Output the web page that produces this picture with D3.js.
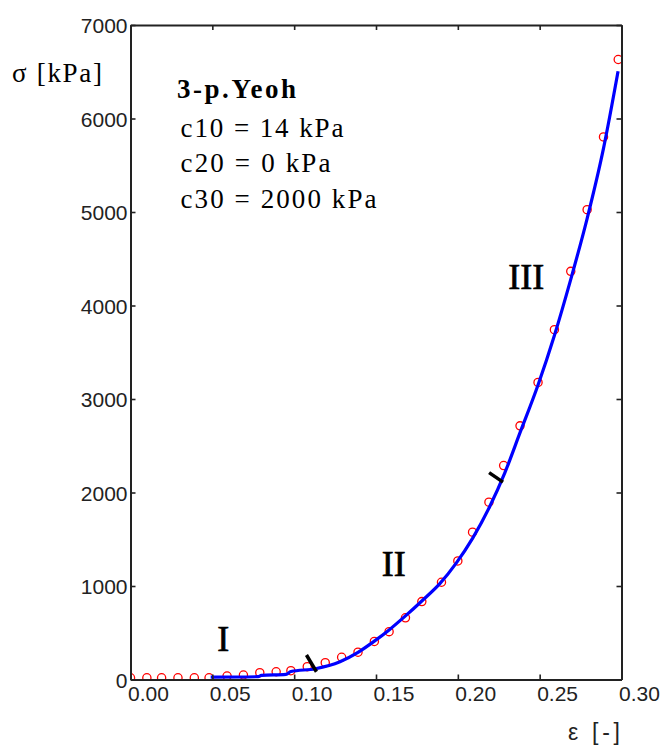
<!DOCTYPE html>
<html><head><meta charset="utf-8">
<script src="https://cdn.jsdelivr.net/npm/d3@7"></script>
<style>body{margin:0;background:#fff}svg{display:block}</style>
</head><body><svg id="c" width="663" height="747"></svg>
<script>
// measured data (red circles)
const measStrain = [0.000,0.010,0.019,0.029,0.039,0.048,0.059,0.069,0.079,0.089,0.098,0.108,0.119,0.129,0.139,0.149,0.158,0.168,0.178,0.190,0.200,0.209,0.219,0.228,0.238,0.249,0.259,0.269,0.279,0.289,0.298];
const measStress = [18,18,18,18,18,18,37,48,73,83,94,137,180,238,292,407,512,660,833,1040,1268,1576,1897,2288,2713,3177,3741,4365,5025,5803,6631];
// fitted 3-p. Yeoh curve (blue line)
const fitStrain = [0.049,0.078,0.080,0.095,0.098,0.113,0.128,0.139,0.149,0.158,0.168,0.178,0.189,0.199,0.209,0.2195,0.2287,0.238,0.249,0.259,0.269,0.279,0.289,0.2979];
const fitStress = [25,30,45,55,85,115,190,290,410,530,680,840,1025,1245,1510,1850,2210,2640,3150,3680,4280,4930,5680,6505];
// region boundary marks
const boundaryStrain = [[0.1075,0.1136],[0.2191,0.2276]];
const boundaryStress = [[262,83],[2213,2111]];
// region labels
const regionLabels = ["I","II","III"];
const regionStrain = [0.0566,0.1608,0.2418];
const regionStress = [308,1111,4180];
// ticks
const strainTicks = [0,0.05,0.10,0.15,0.20,0.25,0.30];
const stressTicks = [0,1000,2000,3000,4000,5000,6000,7000];
// texts
const annotationTitle = "3-p.Yeoh";
const annotationLines = ["c10 = 14 kPa","c20 = 0 kPa","c30 = 2000 kPa"];
const yTitle = "σ [kPa]";
const xTitle = "ε [-]";

const svg = d3.select("#c");
const L = 130.5, R = 621.5, T = 25, B = 679.5;
const x = d3.scaleLinear().domain([0,0.3]).range([L,R]);
const y = d3.scaleLinear().domain([0,7000]).range([B,T]);
const sans = "'Liberation Sans', Arial, sans-serif";
const serif = "'Liberation Serif', 'Times New Roman', serif";

svg.append("rect").attr("width",663).attr("height",747).attr("fill","#fff");

svg.append("defs").append("clipPath").attr("id","clip")
  .append("rect").attr("x",L).attr("y",T).attr("width",R-L).attr("height",B-T);

const plot = svg.append("g").attr("clip-path","url(#clip)");

// circles
plot.selectAll("circle").data(measStrain).join("circle")
  .attr("cx",(d)=>x(d)).attr("cy",(d,i)=>y(measStress[i]))
  .attr("r",4.1).attr("fill","none").attr("stroke","#ff0000").attr("stroke-width",1.3);

// fit line
const line = d3.line().x(d=>x(d[0])).y(d=>y(d[1])).curve(d3.curveMonotoneX);
plot.append("path").datum(fitStrain.map((s,i)=>[s,fitStress[i]]))
  .attr("d",line).attr("fill","none").attr("stroke","#0000ff").attr("stroke-width",3.2);

// boundary marks
boundaryStrain.forEach((bs,i)=>{
  svg.append("line")
    .attr("x1",x(bs[0])).attr("y1",y(boundaryStress[i][0]))
    .attr("x2",x(bs[1])).attr("y2",y(boundaryStress[i][1]))
    .attr("stroke","#000").attr("stroke-width",3.5);
});

// axes
function styleAxis(g){
  g.select(".domain").attr("stroke","#222").attr("stroke-width",2);
  g.selectAll(".tick line").attr("stroke","#222").attr("stroke-width",1.6);
  g.selectAll("text").attr("font-family",sans).attr("font-size",21).attr("fill","#222");
}
const xb = svg.append("g").attr("transform",`translate(0,${B})`)
  .call(d3.axisBottom(x).tickValues(strainTicks).tickFormat(d3.format(".2f")).tickSizeInner(-5).tickSizeOuter(0));
styleAxis(xb);
xb.selectAll("text").attr("text-anchor","start").attr("x",-3).attr("y",21.5).attr("dy",0);

const xt = svg.append("g").attr("transform",`translate(0,${T})`)
  .call(d3.axisTop(x).tickValues(strainTicks).tickFormat("").tickSizeInner(-5).tickSizeOuter(0));
styleAxis(xt);

const yl = svg.append("g").attr("transform",`translate(${L},0)`)
  .call(d3.axisLeft(y).tickValues(stressTicks).tickFormat(d3.format("d")).tickSizeInner(-5).tickSizeOuter(0).tickPadding(3));
styleAxis(yl);
yl.selectAll("text").attr("dy","0.37em");

const yr = svg.append("g").attr("transform",`translate(${R},0)`)
  .call(d3.axisRight(y).tickValues(stressTicks).tickFormat("").tickSizeInner(-5).tickSizeOuter(0));
styleAxis(yr);

// region labels
svg.selectAll("text.region").data(regionLabels).join("text").attr("class","region")
  .attr("x",(d,i)=>x(regionStrain[i])).attr("y",(d,i)=>y(regionStress[i]))
  .attr("text-anchor","middle").attr("font-family",serif).attr("font-size",36)
  .attr("fill","#000").attr("stroke","#000").attr("stroke-width",0.7).text(d=>d);

// annotation
svg.append("text").attr("x",177).attr("y",98).attr("font-family",serif)
  .attr("font-size",27).attr("font-weight","bold").attr("fill","#000")
  .attr("textLength",119).attr("lengthAdjust","spacing").text(annotationTitle);
const annY = [136.5,172,208];
const annLen = [163,150,196];
annotationLines.forEach((t,i)=>{
  svg.append("text").attr("x",180.5).attr("y",annY[i]).attr("font-family",serif)
    .attr("font-size",27).attr("fill","#000")
    .attr("textLength",annLen[i]).attr("lengthAdjust","spacing").text(t);
});

// axis titles
svg.append("text").attr("x",12).attr("y",82).attr("font-family",serif)
  .attr("font-size",27).attr("fill","#000")
  .attr("textLength",90).attr("lengthAdjust","spacing").text(yTitle);
svg.append("text").attr("x",568).attr("y",740).attr("font-family",sans)
  .attr("font-size",23).attr("fill","#222")
  .attr("textLength",52).attr("lengthAdjust","spacing").text(xTitle);
</script></body></html>
